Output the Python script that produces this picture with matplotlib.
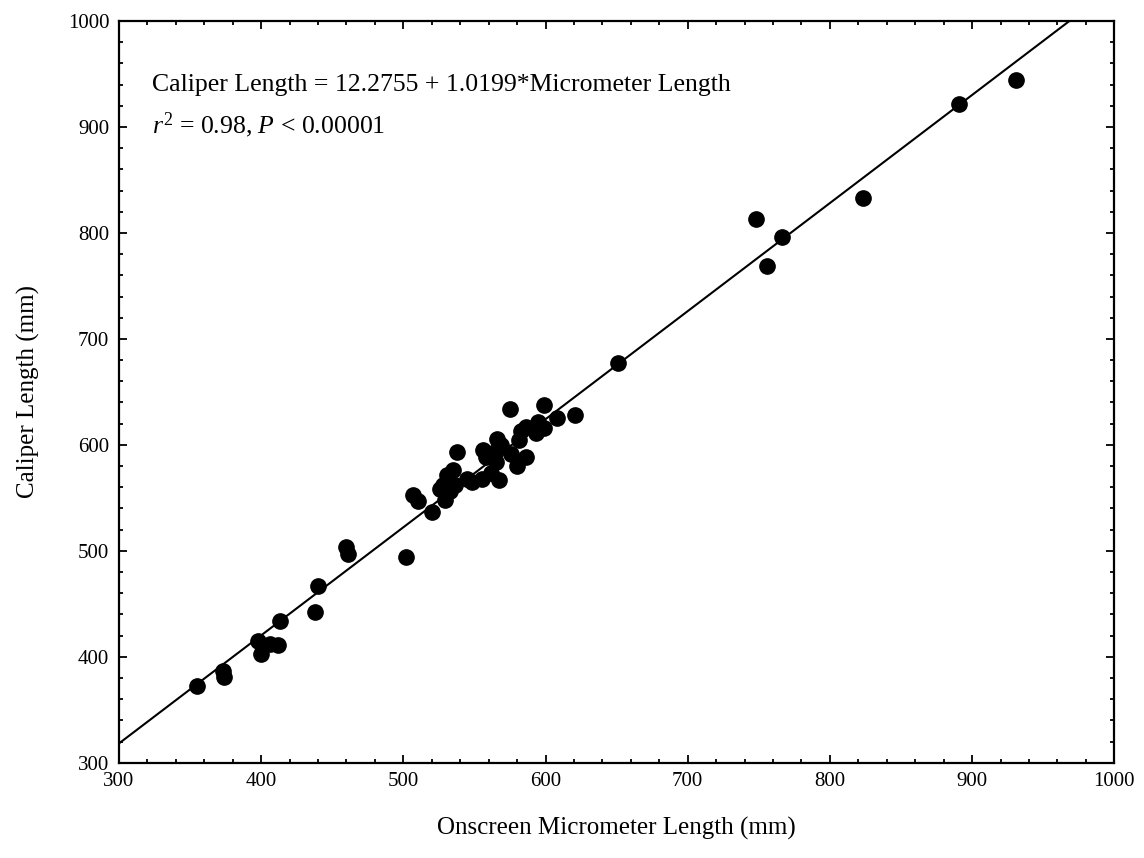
import numpy as np
import matplotlib
matplotlib.use("Agg")
import matplotlib.pyplot as plt
from matplotlib.ticker import MultipleLocator

plt.rcParams['font.family'] = ['Liberation Serif', 'DejaVu Serif']
plt.rcParams['mathtext.fontset'] = 'custom'
plt.rcParams['mathtext.rm'] = 'Liberation Serif'
plt.rcParams['mathtext.it'] = 'Liberation Serif:italic'

# onscreen micrometer length (mm) vs caliper length (mm)
micrometer = [355, 373, 374, 398, 400, 406, 412, 413, 438, 440, 460, 461,
              502, 507, 510, 520, 526, 528, 529, 531, 533, 535, 536, 538,
              545, 548, 555, 556, 558, 562, 565, 565, 566, 567, 569, 575,
              576, 580, 581, 583, 586, 586, 593, 595, 599, 599, 608, 621,
              651, 748, 756, 766, 823, 891, 931]
caliper = [372, 387, 381, 415, 403, 412, 411, 434, 442, 467, 504, 497,
           494, 553, 547, 537, 558, 562, 548, 572, 556, 576, 562, 593,
           568, 565, 568, 595, 589, 573, 584, 594, 606, 567, 600, 634,
           591, 580, 605, 613, 617, 589, 611, 622, 616, 638, 625, 628,
           677, 813, 769, 796, 833, 922, 944]

intercept = 12.2755
slope = 1.0199

fig = plt.figure(figsize=(11.44, 8.58), dpi=100)
ax = fig.add_axes([0.104, 0.111, 0.87, 0.8645])

xs = np.array([300, 1000])
ax.plot(xs, intercept + slope * xs, color='black', lw=1.5)
ax.plot(micrometer, caliper, 'o', color='black', markersize=11, zorder=3)

ax.set_xlim(300, 1000)
ax.set_ylim(300, 1000)
ax.xaxis.set_major_locator(MultipleLocator(100))
ax.yaxis.set_major_locator(MultipleLocator(100))
ax.xaxis.set_minor_locator(MultipleLocator(20))
ax.yaxis.set_minor_locator(MultipleLocator(20))
ax.tick_params(which='both', direction='in', top=True, right=True,
               labelsize=15, width=1.3)
ax.tick_params(which='major', length=6, pad=7)
ax.tick_params(which='minor', length=3)
for sp in ax.spines.values():
    sp.set_linewidth(1.6)

ax.set_xlabel('Onscreen Micrometer Length (mm)', fontsize=18, labelpad=18)
ax.set_ylabel('Caliper Length (mm)', fontsize=18, labelpad=20)

ax.text(0.033, 0.914, 'Caliper Length = 12.2755 + 1.0199*Micrometer Length',
        transform=ax.transAxes, fontsize=18.5, va='center')
ax.text(0.033, 0.86, r'$r^2$ = 0.98, $P$ < 0.00001',
        transform=ax.transAxes, fontsize=18.5, va='center')

fig.savefig('out.png', dpi=100)
